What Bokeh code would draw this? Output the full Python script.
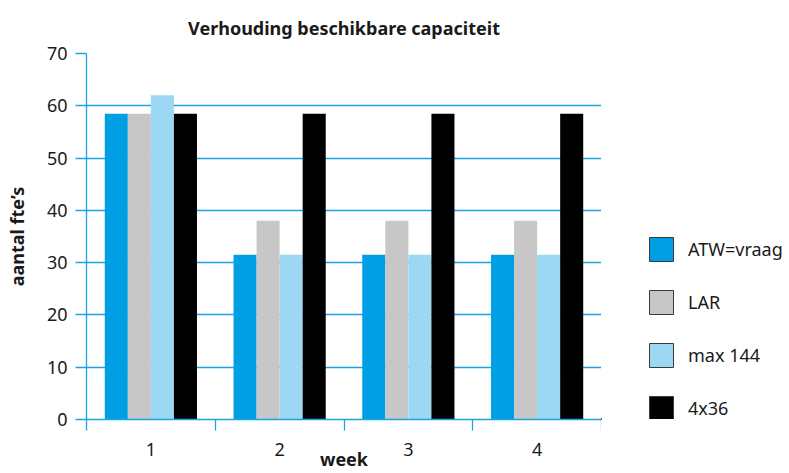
from bokeh.plotting import figure
from bokeh.layouts import row
from bokeh.models import (Range1d, FixedTicker, ColumnDataSource, Legend, LegendItem)
from bokeh.embed import file_html
from bokeh.resources import INLINE

weeks = ["1", "2", "3", "4"]
series_names = ["ATW=vraag", "LAR", "max 144", "4x36"]
atw_vraag = [58.5, 31.5, 31.5, 31.5]
lar = [58.5, 38, 38, 38]
max_144 = [62, 31.5, 31.5, 31.5]
x4_36 = [58.5, 58.5, 58.5, 58.5]
y_ticks = [0, 10, 20, 30, 40, 50, 60, 70]

colors = ["#009FE3", "#C6C7C6", "#9CD8F4", "#000000"]
grid_blue = "#1BA3E3"
FONT = "Noto Sans"
TXT = "#1A1A1A"

p = figure(width=601, height=473, x_range=Range1d(0.5, 4.5), y_range=Range1d(0, 70),
           output_backend="svg", toolbar_location=None,
           title="Verhouding beschikbare capaciteit",
           min_border_left=86, min_border_right=0, min_border_top=53, min_border_bottom=54)
p.outline_line_color = None
p.background_fill_color = "white"
p.border_fill_color = "white"

p.title.align = "center"
p.title.text_font = FONT
p.title.text_font_style = "bold"
p.title.text_font_size = "18px"
p.title.text_color = TXT
p.title.standoff = 27

xs = [i + 1 for i in range(len(weeks))]
all_series = [atw_vraag, lar, max_144, x4_36]
bar_w = 0.179
offsets = [-1.5, -0.5, 0.5, 1.5]
for vals, col, off in zip(all_series, colors, offsets):
    src = ColumnDataSource(dict(x=[x + off * bar_w for x in xs], top=vals))
    p.vbar(x="x", top="top", width=bar_w, bottom=0, source=src,
           fill_color=col, line_color=None)

# grid
p.xgrid.grid_line_color = None
p.ygrid.grid_line_color = grid_blue
p.ygrid.grid_line_width = 1.3
p.ygrid.ticker = FixedTicker(ticks=y_ticks)

# y axis
ya = p.yaxis[0]
ya.ticker = FixedTicker(ticks=y_ticks)
ya.axis_line_color = grid_blue
ya.axis_line_width = 1.3
ya.major_tick_line_color = grid_blue
ya.major_tick_line_width = 1.3
ya.major_tick_out = 11
ya.major_tick_in = 0
ya.minor_tick_line_color = None
ya.major_label_standoff = 8
ya.major_label_text_font = FONT
ya.major_label_text_font_size = "18px"
ya.major_label_text_color = TXT
ya.axis_label = "aantal fte\u2019s"
ya.axis_label_text_font = FONT
ya.axis_label_text_font_style = "bold"
ya.axis_label_text_font_size = "18px"
ya.axis_label_text_color = TXT
ya.axis_label_standoff = 15

# x axis
xa = p.xaxis[0]
xa.ticker = FixedTicker(ticks=xs, minor_ticks=[0.5, 1.5, 2.5, 3.5, 4.5])
xa.major_label_overrides = {x: w for x, w in zip(xs, weeks)}
xa.axis_line_color = grid_blue
xa.axis_line_width = 1.3
xa.major_tick_line_color = None
xa.major_tick_out = 0
xa.major_tick_in = 0
xa.minor_tick_line_color = grid_blue
xa.minor_tick_line_width = 1.3
xa.minor_tick_out = 11
xa.minor_tick_in = 0
xa.major_label_standoff = 12
xa.major_label_text_font = FONT
xa.major_label_text_font_size = "18px"
xa.major_label_text_color = TXT
xa.axis_label = "week"
xa.axis_label_text_font = FONT
xa.axis_label_text_font_style = "bold"
xa.axis_label_text_font_size = "18px"
xa.axis_label_text_color = TXT
xa.axis_label_standoff = -12

# legend panel
p2 = figure(width=188, height=473, x_range=Range1d(0, 188), y_range=Range1d(0, 473),
            output_backend="svg", toolbar_location=None, title=None,
            min_border_left=0, min_border_right=0, min_border_top=0, min_border_bottom=0)
p2.axis.visible = False
p2.grid.grid_line_color = None
p2.outline_line_color = None
p2.border_fill_color = "white"
items = []
for name, col in zip(series_names, colors):
    dummy = p2.vbar(x=[-100], top=[1], width=1, fill_color=col, line_color="#3A3A3A", line_width=1)
    items.append(LegendItem(label=name, renderers=[dummy]))
legend = Legend(items=items, location=(45, -4), orientation="vertical",
                glyph_width=30, glyph_height=30, spacing=23, label_standoff=12,
                padding=0, margin=0, border_line_color=None, background_fill_alpha=0,
                label_text_font=FONT, label_text_font_size="18px", label_text_color=TXT,
                label_height=30)
p2.add_layout(legend, "center")

layout = row(p, p2)
open("out.html", "w").write(file_html(layout, INLINE))
